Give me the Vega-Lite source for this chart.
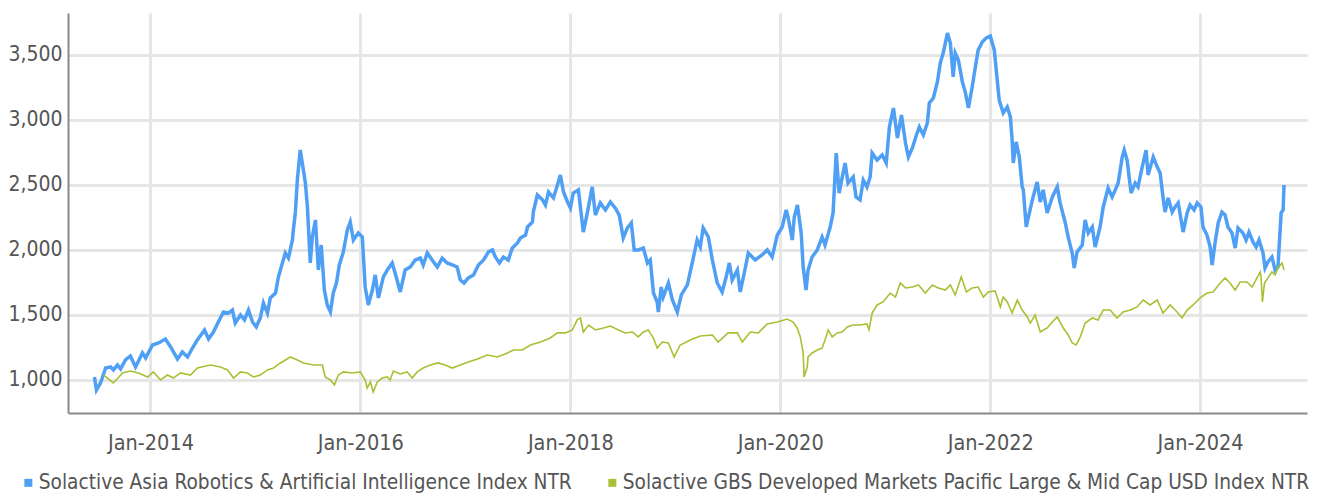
{
  "$schema": "https://vega.github.io/schema/vega-lite/v6.json",
  "width": 1239,
  "height": 400,
  "autosize": "none",
  "padding": {"left": 68, "top": 13, "right": 14, "bottom": 85},
  "background": "white",
  "config": {
    "font": "Liberation Sans Narrow, DejaVu Sans Condensed, sans-serif",
    "view": {"stroke": null}
  },
  "datasets": {
    "asia": [
      {"date":"2013-06-20","value":1023},{"date":"2013-06-27","value":923},{"date":"2013-07-11","value":977},{"date":"2013-07-29","value":1092},{"date":"2013-08-15","value":1100},{"date":"2013-08-25","value":1077},{"date":"2013-09-08","value":1115},{"date":"2013-09-19","value":1085},{"date":"2013-10-06","value":1154},{"date":"2013-10-23","value":1185},{"date":"2013-11-10","value":1100},{"date":"2013-12-04","value":1208},{"date":"2013-12-15","value":1169},
      {"date":"2014-01-08","value":1269},{"date":"2014-01-29","value":1285},{"date":"2014-02-22","value":1315},{"date":"2014-03-12","value":1254},{"date":"2014-04-05","value":1162},{"date":"2014-04-22","value":1215},{"date":"2014-05-10","value":1177},{"date":"2014-05-27","value":1246},{"date":"2014-06-13","value":1308},{"date":"2014-07-08","value":1385},{"date":"2014-07-22","value":1315},{"date":"2014-08-08","value":1369},{"date":"2014-08-25","value":1446},{"date":"2014-09-12","value":1523},{"date":"2014-09-29","value":1515},{"date":"2014-10-13","value":1538},{"date":"2014-10-23","value":1438},{"date":"2014-11-10","value":1500},{"date":"2014-11-24","value":1462},{"date":"2014-12-08","value":1538},{"date":"2014-12-22","value":1446},
      {"date":"2015-01-04","value":1408},{"date":"2015-01-18","value":1477},{"date":"2015-01-29","value":1592},{"date":"2015-02-12","value":1515},{"date":"2015-02-22","value":1631},{"date":"2015-03-12","value":1669},{"date":"2015-03-22","value":1792},{"date":"2015-04-05","value":1900},{"date":"2015-04-15","value":1977},{"date":"2015-04-26","value":1938},{"date":"2015-05-10","value":2077},{"date":"2015-05-13","value":2154},{"date":"2015-05-20","value":2285},{"date":"2015-05-27","value":2538},{"date":"2015-06-06","value":2769},{"date":"2015-06-17","value":2615},{"date":"2015-06-24","value":2515},{"date":"2015-07-01","value":2331},{"date":"2015-07-11","value":1900},{"date":"2015-07-18","value":2100},{"date":"2015-07-29","value":2231},{"date":"2015-08-08","value":1846},{"date":"2015-08-18","value":2038},{"date":"2015-08-29","value":1692},{"date":"2015-09-08","value":1577},{"date":"2015-09-19","value":1523},{"date":"2015-09-29","value":1669},{"date":"2015-10-10","value":1746},{"date":"2015-10-20","value":1885},{"date":"2015-11-03","value":1985},{"date":"2015-11-17","value":2154},{"date":"2015-11-27","value":2215},{"date":"2015-12-08","value":2077},{"date":"2015-12-25","value":2131},
      {"date":"2016-01-08","value":2100},{"date":"2016-01-18","value":1715},{"date":"2016-01-29","value":1577},{"date":"2016-02-12","value":1692},{"date":"2016-02-22","value":1808},{"date":"2016-03-04","value":1631},{"date":"2016-03-21","value":1792},{"date":"2016-04-04","value":1846},{"date":"2016-04-21","value":1900},{"date":"2016-05-05","value":1792},{"date":"2016-05-19","value":1677},{"date":"2016-06-05","value":1846},{"date":"2016-06-23","value":1869},{"date":"2016-07-10","value":1923},{"date":"2016-07-28","value":1938},{"date":"2016-08-07","value":1885},{"date":"2016-08-21","value":1977},{"date":"2016-09-07","value":1923},{"date":"2016-09-25","value":1869},{"date":"2016-10-12","value":1938},{"date":"2016-10-29","value":1900},{"date":"2016-11-16","value":1885},{"date":"2016-12-03","value":1869},{"date":"2016-12-14","value":1769},{"date":"2016-12-27","value":1746},
      {"date":"2017-01-11","value":1785},{"date":"2017-01-29","value":1808},{"date":"2017-02-15","value":1885},{"date":"2017-03-05","value":1923},{"date":"2017-03-22","value":1985},{"date":"2017-04-05","value":2000},{"date":"2017-04-15","value":1946},{"date":"2017-04-29","value":1900},{"date":"2017-05-13","value":1946},{"date":"2017-05-30","value":1923},{"date":"2017-06-13","value":2015},{"date":"2017-07-01","value":2054},{"date":"2017-07-11","value":2092},{"date":"2017-07-29","value":2115},{"date":"2017-08-05","value":2177},{"date":"2017-08-22","value":2215},{"date":"2017-08-25","value":2292},{"date":"2017-09-08","value":2423},{"date":"2017-09-26","value":2385},{"date":"2017-10-06","value":2346},{"date":"2017-10-17","value":2446},{"date":"2017-11-03","value":2400},{"date":"2017-11-17","value":2500},{"date":"2017-11-27","value":2577},{"date":"2017-12-08","value":2446},{"date":"2017-12-22","value":2369},
      {"date":"2018-01-01","value":2323},{"date":"2018-01-11","value":2438},{"date":"2018-01-29","value":2462},{"date":"2018-02-15","value":2138},{"date":"2018-03-01","value":2285},{"date":"2018-03-18","value":2485},{"date":"2018-03-29","value":2269},{"date":"2018-04-15","value":2362},{"date":"2018-05-03","value":2308},{"date":"2018-05-20","value":2369},{"date":"2018-06-06","value":2323},{"date":"2018-06-20","value":2269},{"date":"2018-07-04","value":2092},{"date":"2018-07-18","value":2169},{"date":"2018-08-01","value":2208},{"date":"2018-08-11","value":2000},{"date":"2018-08-25","value":2000},{"date":"2018-09-12","value":2015},{"date":"2018-09-26","value":1900},{"date":"2018-10-06","value":1923},{"date":"2018-10-17","value":1669},{"date":"2018-10-30","value":1600},{"date":"2018-11-03","value":1523},{"date":"2018-11-13","value":1715},{"date":"2018-11-20","value":1638},{"date":"2018-12-08","value":1746},{"date":"2018-12-22","value":1615},
      {"date":"2019-01-08","value":1523},{"date":"2019-01-22","value":1654},{"date":"2019-02-12","value":1731},{"date":"2019-03-01","value":1900},{"date":"2019-03-18","value":2077},{"date":"2019-03-29","value":2023},{"date":"2019-04-08","value":2169},{"date":"2019-04-26","value":2100},{"date":"2019-05-10","value":1923},{"date":"2019-05-27","value":1746},{"date":"2019-06-13","value":1677},{"date":"2019-06-27","value":1792},{"date":"2019-07-08","value":1900},{"date":"2019-07-18","value":1769},{"date":"2019-08-05","value":1846},{"date":"2019-08-15","value":1677},{"date":"2019-08-29","value":1823},{"date":"2019-09-12","value":1977},{"date":"2019-10-06","value":1923},{"date":"2019-10-30","value":1962},{"date":"2019-11-17","value":2000},{"date":"2019-12-04","value":1946},{"date":"2019-12-22","value":2115},
      {"date":"2020-01-08","value":2177},{"date":"2020-01-22","value":2308},{"date":"2020-01-29","value":2246},{"date":"2020-02-12","value":2077},{"date":"2020-02-19","value":2254},{"date":"2020-03-01","value":2346},{"date":"2020-03-14","value":2131},{"date":"2020-03-21","value":1869},{"date":"2020-03-31","value":1692},{"date":"2020-04-07","value":1846},{"date":"2020-04-21","value":1946},{"date":"2020-05-09","value":2000},{"date":"2020-05-26","value":2100},{"date":"2020-06-05","value":2038},{"date":"2020-06-23","value":2177},{"date":"2020-07-03","value":2285},{"date":"2020-07-14","value":2746},{"date":"2020-07-24","value":2438},{"date":"2020-08-04","value":2562},{"date":"2020-08-14","value":2669},{"date":"2020-08-24","value":2515},{"date":"2020-09-11","value":2562},{"date":"2020-09-21","value":2408},{"date":"2020-10-05","value":2385},{"date":"2020-10-16","value":2538},{"date":"2020-10-29","value":2485},{"date":"2020-11-09","value":2562},{"date":"2020-11-16","value":2746},{"date":"2020-12-03","value":2692},{"date":"2020-12-21","value":2731},
      {"date":"2021-01-04","value":2669},{"date":"2021-01-15","value":2946},{"date":"2021-01-29","value":3092},{"date":"2021-02-12","value":2862},{"date":"2021-02-26","value":3038},{"date":"2021-03-12","value":2823},{"date":"2021-03-22","value":2715},{"date":"2021-04-05","value":2785},{"date":"2021-04-19","value":2885},{"date":"2021-04-29","value":2946},{"date":"2021-05-13","value":2885},{"date":"2021-05-27","value":2977},{"date":"2021-06-03","value":3131},{"date":"2021-06-17","value":3169},{"date":"2021-07-01","value":3292},{"date":"2021-07-11","value":3438},{"date":"2021-07-22","value":3523},{"date":"2021-08-05","value":3669},{"date":"2021-08-15","value":3592},{"date":"2021-08-25","value":3331},{"date":"2021-09-01","value":3515},{"date":"2021-09-12","value":3462},{"date":"2021-09-26","value":3292},{"date":"2021-10-06","value":3215},{"date":"2021-10-17","value":3092},{"date":"2021-10-30","value":3254},{"date":"2021-11-10","value":3408},{"date":"2021-11-20","value":3538},{"date":"2021-12-04","value":3600},{"date":"2021-12-18","value":3631},
      {"date":"2022-01-01","value":3646},{"date":"2022-01-15","value":3538},{"date":"2022-02-01","value":3154},{"date":"2022-02-15","value":3054},{"date":"2022-03-01","value":3100},{"date":"2022-03-12","value":3023},{"date":"2022-03-18","value":2846},{"date":"2022-03-22","value":2669},{"date":"2022-04-01","value":2831},{"date":"2022-04-12","value":2715},{"date":"2022-04-22","value":2485},{"date":"2022-04-26","value":2462},{"date":"2022-05-06","value":2177},{"date":"2022-05-17","value":2285},{"date":"2022-05-30","value":2408},{"date":"2022-06-13","value":2523},{"date":"2022-06-24","value":2369},{"date":"2022-07-04","value":2462},{"date":"2022-07-18","value":2285},{"date":"2022-08-05","value":2408},{"date":"2022-08-22","value":2485},{"date":"2022-09-01","value":2362},{"date":"2022-09-19","value":2208},{"date":"2022-09-29","value":2100},{"date":"2022-10-13","value":1977},{"date":"2022-10-20","value":1862},{"date":"2022-10-30","value":1985},{"date":"2022-11-17","value":2038},{"date":"2022-11-27","value":2231},{"date":"2022-12-08","value":2131},{"date":"2022-12-22","value":2177},
      {"date":"2023-01-01","value":2023},{"date":"2023-01-18","value":2177},{"date":"2023-01-29","value":2331},{"date":"2023-02-15","value":2477},{"date":"2023-03-01","value":2408},{"date":"2023-03-12","value":2462},{"date":"2023-03-22","value":2515},{"date":"2023-04-05","value":2715},{"date":"2023-04-12","value":2769},{"date":"2023-04-22","value":2692},{"date":"2023-05-06","value":2438},{"date":"2023-05-20","value":2515},{"date":"2023-05-30","value":2485},{"date":"2023-06-13","value":2631},{"date":"2023-06-27","value":2769},{"date":"2023-07-04","value":2577},{"date":"2023-07-22","value":2715},{"date":"2023-08-05","value":2638},{"date":"2023-08-15","value":2592},{"date":"2023-08-25","value":2408},{"date":"2023-09-01","value":2292},{"date":"2023-09-12","value":2400},{"date":"2023-09-26","value":2292},{"date":"2023-10-06","value":2331},{"date":"2023-10-17","value":2362},{"date":"2023-10-27","value":2231},{"date":"2023-11-03","value":2138},{"date":"2023-11-17","value":2285},{"date":"2023-11-27","value":2346},{"date":"2023-12-11","value":2308},{"date":"2023-12-22","value":2362},
      {"date":"2024-01-04","value":2331},{"date":"2024-01-11","value":2177},{"date":"2024-01-25","value":2115},{"date":"2024-02-05","value":2023},{"date":"2024-02-12","value":1885},{"date":"2024-02-22","value":2054},{"date":"2024-03-04","value":2208},{"date":"2024-03-17","value":2292},{"date":"2024-03-28","value":2269},{"date":"2024-04-07","value":2177},{"date":"2024-04-21","value":2131},{"date":"2024-05-02","value":2015},{"date":"2024-05-12","value":2169},{"date":"2024-05-29","value":2131},{"date":"2024-06-09","value":2077},{"date":"2024-06-19","value":2138},{"date":"2024-07-03","value":2062},{"date":"2024-07-14","value":2023},{"date":"2024-07-24","value":2077},{"date":"2024-08-07","value":1977},{"date":"2024-08-14","value":1862},{"date":"2024-08-24","value":1908},{"date":"2024-09-07","value":1946},{"date":"2024-09-18","value":1846},{"date":"2024-09-28","value":1869},{"date":"2024-10-09","value":2285},{"date":"2024-10-16","value":2308},{"date":"2024-10-19","value":2500}
    ],
    "pacific": [
      {"date":"2013-07-22","value":1038},{"date":"2013-08-25","value":977},{"date":"2013-09-26","value":1054},{"date":"2013-10-23","value":1069},{"date":"2013-11-20","value":1054},{"date":"2013-12-22","value":1023},
      {"date":"2014-01-11","value":1062},{"date":"2014-02-05","value":1000},{"date":"2014-03-01","value":1038},{"date":"2014-03-22","value":1015},{"date":"2014-04-15","value":1054},{"date":"2014-05-20","value":1038},{"date":"2014-06-13","value":1092},{"date":"2014-07-29","value":1115},{"date":"2014-09-01","value":1100},{"date":"2014-09-26","value":1077},{"date":"2014-10-17","value":1015},{"date":"2014-11-10","value":1062},{"date":"2014-12-04","value":1054},{"date":"2014-12-25","value":1023},
      {"date":"2015-01-18","value":1038},{"date":"2015-02-12","value":1077},{"date":"2015-03-05","value":1092},{"date":"2015-03-29","value":1131},{"date":"2015-05-03","value":1177},{"date":"2015-05-27","value":1154},{"date":"2015-06-17","value":1131},{"date":"2015-07-22","value":1115},{"date":"2015-08-22","value":1115},{"date":"2015-09-01","value":1023},{"date":"2015-09-19","value":1000},{"date":"2015-10-03","value":962},{"date":"2015-10-17","value":1038},{"date":"2015-11-03","value":1062},{"date":"2015-12-04","value":1054},
      {"date":"2016-01-01","value":1062},{"date":"2016-01-18","value":1000},{"date":"2016-01-25","value":938},{"date":"2016-02-05","value":985},{"date":"2016-02-15","value":908},{"date":"2016-02-29","value":985},{"date":"2016-03-17","value":1015},{"date":"2016-04-04","value":1023},{"date":"2016-04-14","value":1000},{"date":"2016-04-25","value":1069},{"date":"2016-05-19","value":1046},{"date":"2016-06-12","value":1062},{"date":"2016-06-30","value":1015},{"date":"2016-07-17","value":1062},{"date":"2016-08-07","value":1092},{"date":"2016-08-31","value":1115},{"date":"2016-09-28","value":1131},{"date":"2016-10-22","value":1115},{"date":"2016-11-16","value":1092},{"date":"2016-12-14","value":1115},
      {"date":"2017-01-11","value":1138},{"date":"2017-02-12","value":1162},{"date":"2017-03-18","value":1192},{"date":"2017-04-22","value":1177},{"date":"2017-05-27","value":1208},{"date":"2017-06-17","value":1231},{"date":"2017-07-18","value":1231},{"date":"2017-08-15","value":1269},{"date":"2017-09-19","value":1292},{"date":"2017-10-23","value":1323},{"date":"2017-11-17","value":1362},{"date":"2017-12-15","value":1362},
      {"date":"2018-01-08","value":1385},{"date":"2018-01-25","value":1462},{"date":"2018-02-05","value":1477},{"date":"2018-02-15","value":1369},{"date":"2018-03-05","value":1423},{"date":"2018-03-29","value":1385},{"date":"2018-04-26","value":1400},{"date":"2018-05-20","value":1415},{"date":"2018-06-17","value":1385},{"date":"2018-07-11","value":1362},{"date":"2018-08-05","value":1369},{"date":"2018-08-25","value":1331},{"date":"2018-09-12","value":1369},{"date":"2018-09-29","value":1385},{"date":"2018-10-17","value":1323},{"date":"2018-10-30","value":1246},{"date":"2018-11-17","value":1292},{"date":"2018-12-08","value":1285},{"date":"2018-12-28","value":1177},
      {"date":"2019-01-18","value":1269},{"date":"2019-02-22","value":1308},{"date":"2019-03-29","value":1338},{"date":"2019-05-10","value":1346},{"date":"2019-05-30","value":1292},{"date":"2019-07-04","value":1362},{"date":"2019-08-05","value":1362},{"date":"2019-08-22","value":1292},{"date":"2019-09-19","value":1369},{"date":"2019-10-17","value":1362},{"date":"2019-11-17","value":1431},{"date":"2019-12-22","value":1446},
      {"date":"2020-01-25","value":1469},{"date":"2020-02-15","value":1446},{"date":"2020-02-29","value":1400},{"date":"2020-03-11","value":1331},{"date":"2020-03-21","value":1208},{"date":"2020-03-24","value":1023},{"date":"2020-04-04","value":1100},{"date":"2020-04-07","value":1177},{"date":"2020-04-21","value":1208},{"date":"2020-05-09","value":1231},{"date":"2020-05-26","value":1246},{"date":"2020-06-05","value":1308},{"date":"2020-06-16","value":1385},{"date":"2020-06-30","value":1331},{"date":"2020-07-17","value":1362},{"date":"2020-08-04","value":1369},{"date":"2020-08-21","value":1408},{"date":"2020-09-11","value":1423},{"date":"2020-10-05","value":1423},{"date":"2020-10-29","value":1431},{"date":"2020-11-05","value":1385},{"date":"2020-11-16","value":1515},{"date":"2020-12-03","value":1577},{"date":"2020-12-24","value":1600},
      {"date":"2021-01-18","value":1669},{"date":"2021-02-05","value":1638},{"date":"2021-02-22","value":1746},{"date":"2021-03-12","value":1708},{"date":"2021-04-05","value":1715},{"date":"2021-04-26","value":1731},{"date":"2021-05-20","value":1669},{"date":"2021-06-13","value":1731},{"date":"2021-07-04","value":1708},{"date":"2021-07-29","value":1692},{"date":"2021-08-15","value":1731},{"date":"2021-09-01","value":1654},{"date":"2021-09-22","value":1792},{"date":"2021-10-10","value":1677},{"date":"2021-10-30","value":1708},{"date":"2021-11-20","value":1715},{"date":"2021-12-08","value":1638},{"date":"2021-12-25","value":1677},
      {"date":"2022-01-18","value":1685},{"date":"2022-02-05","value":1562},{"date":"2022-02-15","value":1638},{"date":"2022-03-01","value":1600},{"date":"2022-03-18","value":1515},{"date":"2022-04-05","value":1615},{"date":"2022-04-22","value":1538},{"date":"2022-05-10","value":1485},{"date":"2022-05-20","value":1438},{"date":"2022-06-06","value":1500},{"date":"2022-06-24","value":1369},{"date":"2022-07-18","value":1400},{"date":"2022-08-05","value":1446},{"date":"2022-08-22","value":1485},{"date":"2022-09-12","value":1400},{"date":"2022-09-29","value":1346},{"date":"2022-10-13","value":1285},{"date":"2022-10-27","value":1269},{"date":"2022-11-10","value":1331},{"date":"2022-11-27","value":1438},{"date":"2022-12-22","value":1477},
      {"date":"2023-01-11","value":1462},{"date":"2023-01-29","value":1538},{"date":"2023-02-22","value":1538},{"date":"2023-03-18","value":1477},{"date":"2023-04-08","value":1523},{"date":"2023-05-03","value":1538},{"date":"2023-05-27","value":1562},{"date":"2023-06-17","value":1615},{"date":"2023-07-11","value":1577},{"date":"2023-08-05","value":1615},{"date":"2023-08-25","value":1515},{"date":"2023-09-19","value":1577},{"date":"2023-10-13","value":1523},{"date":"2023-10-30","value":1477},{"date":"2023-11-17","value":1538},{"date":"2023-12-08","value":1577},
      {"date":"2024-01-01","value":1631},{"date":"2024-01-25","value":1669},{"date":"2024-02-15","value":1677},{"date":"2024-03-11","value":1746},{"date":"2024-03-28","value":1785},{"date":"2024-04-14","value":1746},{"date":"2024-05-02","value":1692},{"date":"2024-05-19","value":1754},{"date":"2024-06-12","value":1754},{"date":"2024-06-30","value":1715},{"date":"2024-07-17","value":1785},{"date":"2024-07-28","value":1831},{"date":"2024-07-31","value":1792},{"date":"2024-08-05","value":1600},{"date":"2024-08-12","value":1746},{"date":"2024-09-07","value":1831},{"date":"2024-09-18","value":1808},{"date":"2024-09-28","value":1862},{"date":"2024-10-12","value":1900},{"date":"2024-10-19","value":1846}
    ]
  },
  "encoding": {
    "x": {
      "field": "date",
      "type": "temporal",
      "scale": {"type": "utc", "domain": ["2013-03-20", "2025-01-07"]},
      "axis": {
        "title": null,
        "format": "%b-%Y",
        "values": [
          {"year": 2014, "month": 1, "date": 1, "utc": true},
          {"year": 2016, "month": 1, "date": 1, "utc": true},
          {"year": 2018, "month": 1, "date": 1, "utc": true},
          {"year": 2020, "month": 1, "date": 1, "utc": true},
          {"year": 2022, "month": 1, "date": 1, "utc": true},
          {"year": 2024, "month": 1, "date": 1, "utc": true}
        ],
        "grid": true,
        "gridColor": "#e6e6e6",
        "gridWidth": 3,
        "ticks": false,
        "domain": true,
        "domainColor": "#8a8a8a",
        "domainWidth": 2,
        "labelFontSize": 21.5,
        "labelColor": "#555555",
        "labelPadding": 19
      }
    },
    "y": {
      "field": "value",
      "type": "quantitative",
      "scale": {"domain": [746, 3823], "nice": false, "zero": false},
      "axis": {
        "title": null,
        "values": [1000, 1500, 2000, 2500, 3000, 3500],
        "format": ",d",
        "grid": true,
        "gridColor": "#e6e6e6",
        "gridWidth": 3,
        "ticks": false,
        "domain": true,
        "domainColor": "#8a8a8a",
        "domainWidth": 2,
        "labelFontSize": 21,
        "labelColor": "#555555",
        "labelPadding": 6
      }
    },
    "color": {
      "scale": {
        "domain": ["Solactive Asia Robotics & Artificial Intelligence Index NTR", "Solactive GBS Developed Markets Pacific Large & Mid Cap USD Index NTR"],
        "range": ["#4f9ff5", "#a8c034"]
      },
      "legend": {
        "title": null,
        "orient": "none",
        "legendX": -50,
        "legendY": 459,
        "direction": "horizontal",
        "columns": 2,
        "columnPadding": 30,
        "padding": 0,
        "symbolType": "square",
        "symbolSize": 64,
        "symbolStrokeWidth": 0,
        "labelFontSize": 20.7,
        "labelColor": "#555555",
        "labelOffset": 0,
        "labelLimit": 800,
        "encode": {
          "symbols": {"update": {"fill": {"scale": "color", "field": "value"}, "opacity": {"value": 1}}}
        }
      }
    }
  },
  "layer": [
    {
      "data": {"name": "asia"},
      "mark": {"type": "line", "strokeWidth": 3.5, "interpolate": "linear"},
      "encoding": {"color": {"datum": "Solactive Asia Robotics & Artificial Intelligence Index NTR"}}
    },
    {
      "data": {"name": "pacific"},
      "mark": {"type": "line", "strokeWidth": 1.6, "interpolate": "linear"},
      "encoding": {"color": {"datum": "Solactive GBS Developed Markets Pacific Large & Mid Cap USD Index NTR"}}
    }
  ]
}
